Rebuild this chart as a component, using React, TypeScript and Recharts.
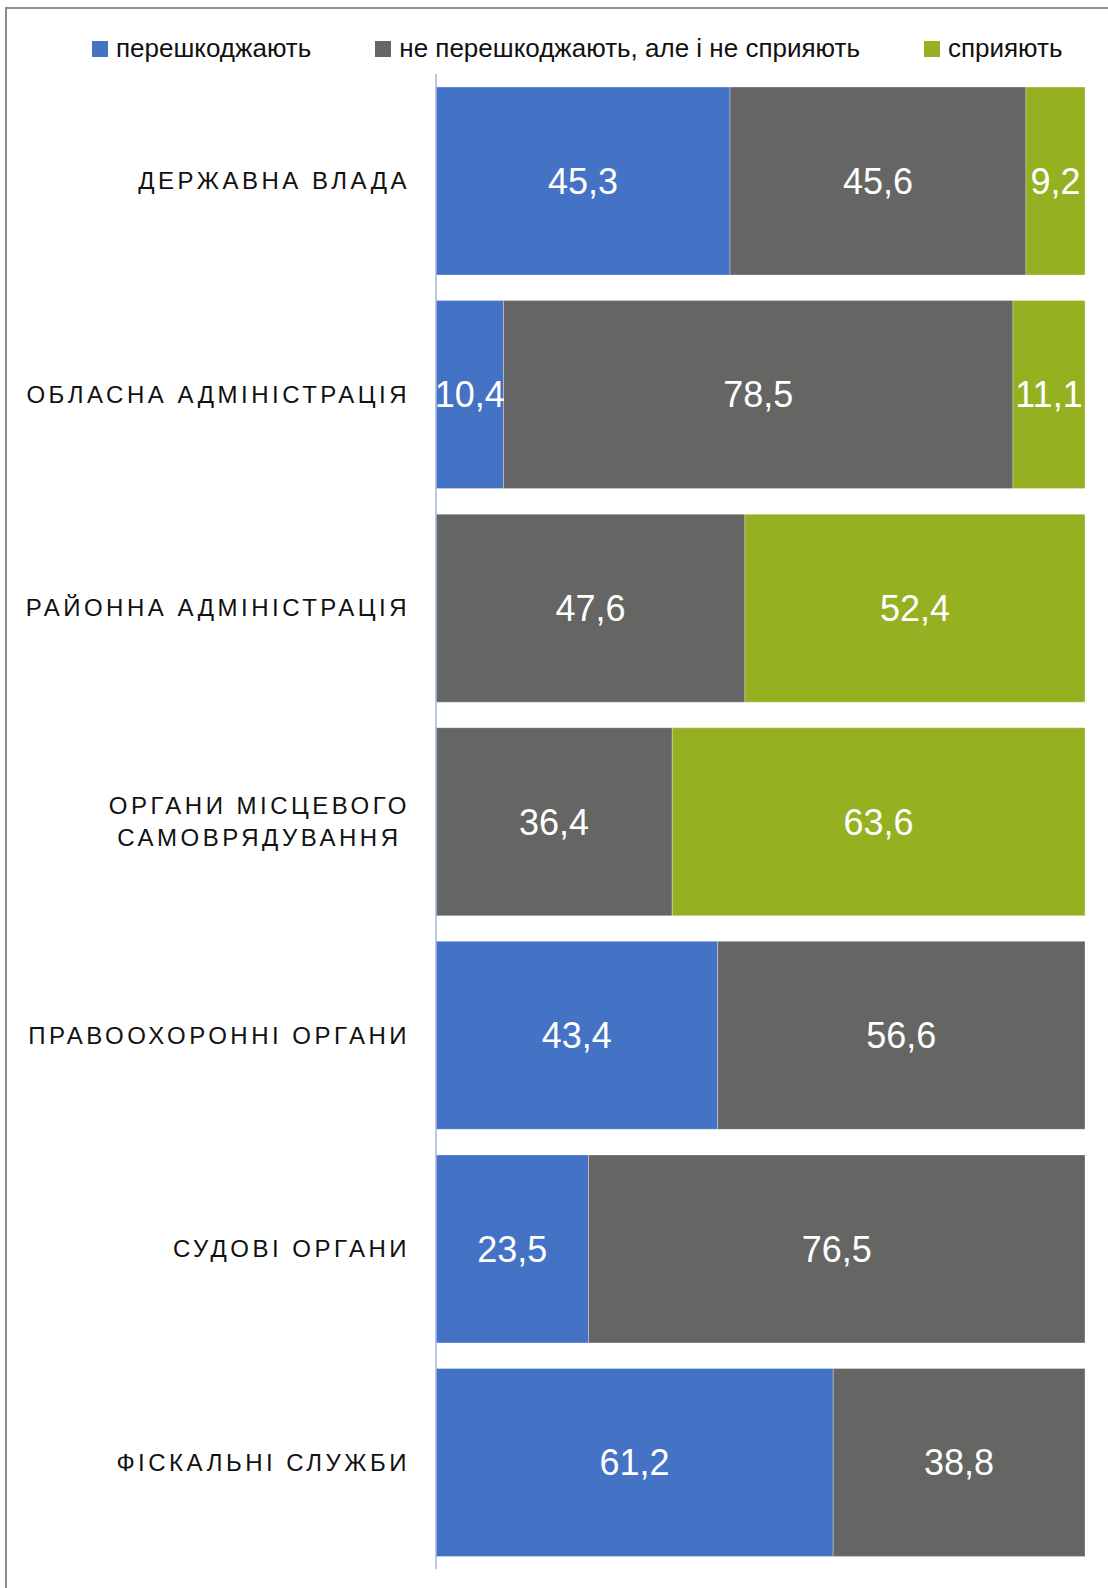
import React from 'react';
import { BarChart, Bar, XAxis, YAxis, Legend, LabelList } from 'recharts';

const CATEGORIES = [
  'ДЕРЖАВНА ВЛАДА',
  'ОБЛАСНА АДМІНІСТРАЦІЯ',
  'РАЙОННА АДМІНІСТРАЦІЯ',
  'ОРГАНИ МІСЦЕВОГО\nСАМОВРЯДУВАННЯ',
  'ПРАВООХОРОННІ ОРГАНИ',
  'СУДОВІ ОРГАНИ',
  'ФІСКАЛЬНІ СЛУЖБИ',
];

const HINDER = [45.3, 10.4, null, null, 43.4, 23.5, 61.2];
const NEUTRAL = [45.6, 78.5, 47.6, 36.4, 56.6, 76.5, 38.8];
const HELP = [9.2, 11.1, 52.4, 63.6, null, null, null];

const SERIES = [
  { key: 'hinder', name: 'перешкоджають', color: '#4472C4' },
  { key: 'neutral', name: 'не перешкоджають, але і не сприяють', color: '#656563' },
  { key: 'help', name: 'сприяють', color: '#95B121' },
];

const data = CATEGORIES.map((name, i) => ({
  name,
  hinder: HINDER[i],
  neutral: NEUTRAL[i],
  help: HELP[i],
}));

const FONT = '"Liberation Sans", Arial, sans-serif';
const TICK_SIZE = 24;
const TICK_SPACING = 3.5;

let measureCtx: CanvasRenderingContext2D | null = null;
const textWidth = (s: string) => {
  if (!measureCtx) {
    measureCtx = document.createElement('canvas').getContext('2d');
  }
  if (!measureCtx) return s.length * TICK_SIZE * 0.65;
  measureCtx.font = `${TICK_SIZE}px "Liberation Sans"`;
  return measureCtx.measureText(s).width + s.length * TICK_SPACING;
};

const CategoryTick = (props: any) => {
  const { x, y, payload } = props;
  const lines: string[] = String(payload.value).split('\n');
  const style = { letterSpacing: `${TICK_SPACING}px`, fontFamily: FONT };
  if (lines.length === 1) {
    return (
      <text x={x} y={y + 8.5} textAnchor="end" fontSize={TICK_SIZE} fill="#111" style={style}>
        {lines[0]}
      </text>
    );
  }
  const w0 = textWidth(lines[0]);
  return (
    <g>
      {lines.map((ln, i) => {
        const shift = (w0 - textWidth(ln)) / 2;
        return (
          <text
            key={i}
            x={x - shift}
            y={y + 8.5 + (i - (lines.length - 1) / 2) * 32}
            textAnchor="end"
            fontSize={TICK_SIZE}
            fill="#111"
            style={style}
          >
            {ln}
          </text>
        );
      })}
    </g>
  );
};

const LegendContent = () => (
  <div style={{ display: 'flex', alignItems: 'center', gap: 64, fontFamily: FONT, fontSize: 26, color: '#111' }}>
    {SERIES.map((s) => (
      <div key={s.key} style={{ display: 'flex', alignItems: 'center' }}>
        <span style={{ width: 16, height: 16, background: s.color, display: 'inline-block', marginRight: 8, marginTop: 2 }} />
        <span style={{ lineHeight: '30px' }}>{s.name}</span>
      </div>
    ))}
  </div>
);

const fmt = (v: any) => (v == null ? '' : String(v).replace('.', ','));

export default function App() {
  return (
    <div style={{ position: 'relative', width: 1108, height: 1588, overflow: 'hidden', background: '#fff', fontFamily: FONT }}>
      <style>{`body{margin:0}`}</style>
      <div
        style={{
          position: 'absolute',
          left: 5,
          top: 7,
          width: 1103,
          height: 1581,
          borderTop: '2px solid #8c8c8c',
          borderLeft: '2px solid #8c8c8c',
          boxSizing: 'border-box',
        }}
      />
      <div style={{ position: 'absolute', left: 0, top: 0 }}>
        <BarChart
          width={1108}
          height={1588}
          data={data}
          layout="vertical"
          margin={{ top: 74, right: 23, bottom: 19, left: 0 }}
          barCategoryGap="6.1%"
        >
          <XAxis type="number" domain={[0, 100]} allowDataOverflow hide />
          <YAxis
            type="category"
            dataKey="name"
            width={436}
            axisLine={{ stroke: '#a3b6e0', strokeWidth: 1.5 }}
            tickLine={false}
            tickSize={0}
            tickMargin={26}
            interval={0}
            tick={<CategoryTick />}
          />
          <Legend
            layout="horizontal"
            verticalAlign="middle"
            align="center"
            wrapperStyle={{ top: 33, left: 92, width: 1000 }}
            content={<LegendContent />}
          />
          {SERIES.map((s) => (
            <Bar
              key={s.key}
              dataKey={s.key}
              name={s.name}
              stackId="a"
              fill={s.color}
              stroke="#ffffff"
              strokeOpacity={0.3}
              strokeWidth={1}
              isAnimationActive={false}
            >
              <LabelList
                dataKey={s.key}
                position="center"
                fill="#ffffff"
                fontSize={36}
                fontFamily={FONT}
                formatter={fmt}
              />
            </Bar>
          ))}
        </BarChart>
      </div>
    </div>
  );
}
